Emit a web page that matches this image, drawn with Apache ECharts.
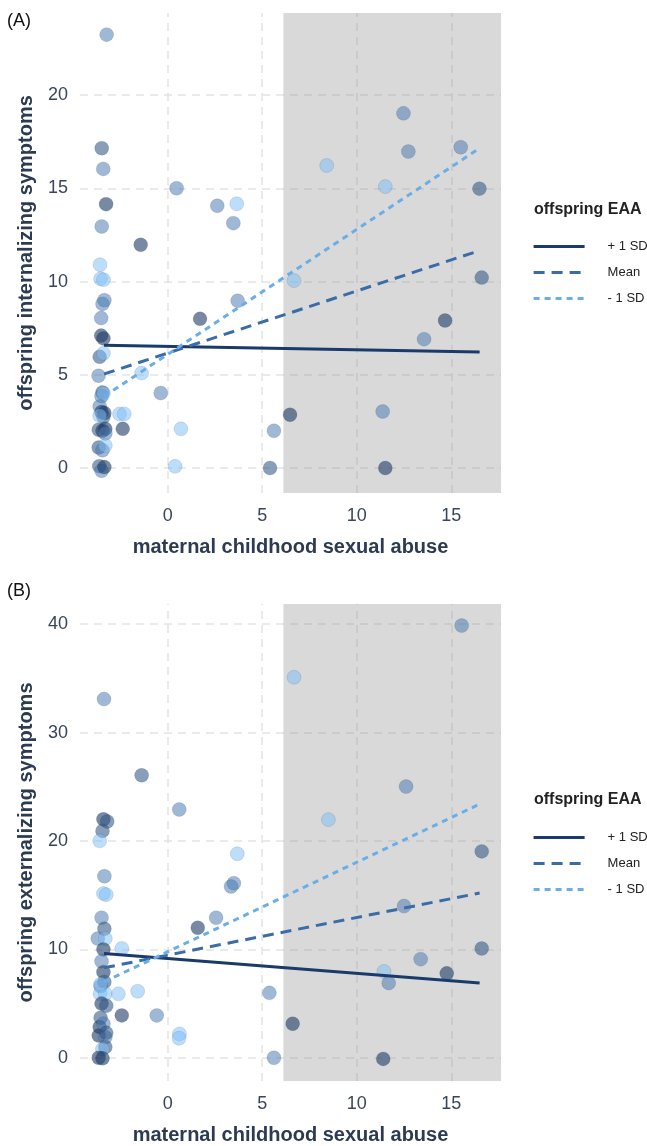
<!DOCTYPE html>
<html>
<head>
<meta charset="utf-8">
<script src="https://cdn.jsdelivr.net/npm/echarts@6/dist/echarts.min.js"></script>
<style>
html,body{margin:0;padding:0;background:#fff;}
#chart{width:647px;height:1146px;}
</style>
</head>
<body>
<div id="chart"></div>
<script>
// ---------- data ----------
const xTicks = [0, 5, 10, 15];
const yTicksA = [0, 5, 10, 15, 20];
const yTicksB = [0, 10, 20, 30, 40];
const legendNames = ['+ 1 SD', 'Mean', '- 1 SD'];
const shadedStart = 6.12;
const xLabel = 'maternal childhood sexual abuse';
const yLabelA = 'offspring internalizing symptoms';
const yLabelB = 'offspring externalizing symptoms';

// [x, y, EAA shade level 1=high .. 4=low]
const pointsA = [
  [12.47,19.02,3],[12.73,16.97,3],[8.41,16.22,4],[15.50,17.2,3],[11.51,15.09,4],
  [16.49,14.98,2],[6.68,10.05,4],[16.61,10.21,2],[14.67,7.91,1],[13.56,6.91,3],
  [6.47,2.86,1],[11.37,3.03,3],[11.51,0,1],[5.62,2.0,3],[5.41,0,2],
  [3.70,8.97,3],[1.71,8.0,1],[0.70,2.1,4],[0.39,0.09,4],[-0.37,4.02,3],
  [-1.38,5.09,4],[-2.55,2.9,4],[-2.3,2.9,4],[-2.38,2.1,1],[-1.43,11.97,1],
  [0.47,15.0,3],[2.62,14.06,3],[3.65,14.17,4],[3.47,13.13,3],[-3.23,23.24,3],
  [-3.49,17.15,2],[-3.41,16.04,3],[-3.26,14.15,1],[-3.49,12.95,3],
  [-3.58,10.9,4],[-3.55,10.15,4],[-3.4,10.1,4],[-3.35,9.0,3],[-3.45,8.8,3],
  [-3.52,8.04,3],[-3.52,7.1,1],[-3.4,6.95,1],[-3.6,5.96,2],[-3.4,6.15,4],
  [-3.66,4.95,3],[-3.45,4.05,2],[-3.5,3.85,3],[-3.4,4.0,4],
  [-3.6,3.3,3],[-3.5,3.0,1],[-3.35,2.95,1],[-3.4,2.75,2],[-3.6,2.8,4],
  [-3.65,2.05,2],[-3.45,2.0,1],[-3.3,2.1,1],[-3.3,1.85,3],
  [-3.65,1.1,2],[-3.45,0.95,3],[-3.3,1.2,4],
  [-3.62,0.1,2],[-3.5,-0.15,3],[-3.35,0.05,1]
];
const pointsB = [
  [15.55,39.87,3],[6.68,35.1,4],[12.61,25.02,3],[8.5,21.97,4],[16.61,19.04,2],
  [12.5,14.0,3],[16.61,10.08,2],[13.38,9.1,3],[11.44,7.97,4],[11.69,6.9,3],
  [14.76,7.79,1],[6.61,3.14,1],[11.4,-0.1,1],[5.38,5.99,3],[5.62,0,3],
  [-3.37,33.09,3],[-1.38,26.06,2],[0.61,22.9,3],[-3.4,22.0,1],[-3.2,21.8,2],
  [-3.45,20.93,2],[-3.6,20.01,4],[3.68,18.82,4],[-3.35,16.75,3],[-3.4,15.15,4],
  [-3.25,15.05,4],[3.5,16.1,3],[3.35,15.8,3],[2.56,12.92,3],[1.59,12.0,1],
  [-3.5,12.92,3],[-3.35,11.9,2],[-3.7,11.0,3],[-3.3,11.0,4],[-2.43,10.08,4],
  [-3.4,10.0,1],[-3.5,8.9,3],[-3.4,7.9,1],[-3.35,7.0,2],[-3.55,6.6,3],
  [-3.58,5.9,4],[-3.3,5.9,4],[-2.61,5.9,4],[-1.59,6.14,4],[-3.5,5.0,1],
  [-3.25,4.8,2],[-2.43,3.91,1],[-0.58,3.91,3],[-3.55,3.7,2],[-3.6,2.84,1],
  [-3.65,2.05,1],[-3.3,1.9,3],[0.62,2.2,4],[0.6,1.8,4],[-3.3,1.0,2],
  [-3.45,0.8,4],[-3.65,0,1],[-3.45,-0.05,1],[-3.4,3.15,3],[-3.25,2.3,2],
  [-3.55,6.8,4]
];
// simple slopes: [x, y] end points
const highA = [[-3.37,6.58],[16.5,6.22]];
const meanA = [[-3.37,5.04],[16.5,11.66]];
const lowA  = [[-3.37,3.84],[16.5,17.15]];
const highB = [[-3.37,9.62],[16.5,6.9]];
const meanB = [[-3.37,8.3],[16.5,15.2]];
const lowB  = [[-3.37,7.0],[16.5,23.4]];

// ---------- styling ----------
const FONT = '"Liberation Sans", Arial, sans-serif';
const shadeColors = {1:'rgba(27,57,100,0.74)',2:'rgba(50,86,134,0.72)',3:'rgba(76,123,180,0.68)',4:'rgba(125,190,247,0.64)'};
const lineColors = ['#1a3a6b', '#3a6ca8', '#6aaee8'];
const lineTypes = ['solid', [11,7], [6,5]];
const labelColor = '#3a4658';
const titleColor = '#2d3b52';

const panels = [
  {top:13, xMin:-4.64, xMax:17.63, yMin:-1.34, yMax:24.4, yTicks:yTicksA, yName:yLabelA, pts:pointsA, lines:[highA,meanA,lowA]},
  {top:604, xMin:-4.64, xMax:17.63, yMin:-2.14, yMax:41.86, yTicks:yTicksB, yName:yLabelB, pts:pointsB, lines:[highB,meanB,lowB]}
];

const grid = [], xAxis = [], yAxis = [], series = [];
panels.forEach((p, i) => {
  grid.push({left:80, width:421, top:p.top, height:480});
  xAxis.push({
    type:'value', gridIndex:i, min:p.xMin, max:p.xMax,
    axisLine:{show:false}, axisTick:{show:false}, splitLine:{show:false},
    axisLabel:{customValues:xTicks, fontSize:18, color:labelColor, margin:14, fontFamily:FONT},
    name:xLabel, nameLocation:'middle', nameGap:44,
    nameTextStyle:{fontSize:20, fontWeight:'bold', color:titleColor, fontFamily:FONT}
  });
  yAxis.push({
    type:'value', gridIndex:i, min:p.yMin, max:p.yMax,
    axisLine:{show:false}, axisTick:{show:false}, splitLine:{show:false},
    axisLabel:{customValues:p.yTicks, fontSize:18, color:labelColor, margin:12, fontFamily:FONT},
    name:p.yName, nameLocation:'middle', nameGap:44,
    nameTextStyle:{fontSize:20, fontWeight:'bold', color:titleColor, fontFamily:FONT}
  });
  // gridlines
  series.push({
    type:'scatter', xAxisIndex:i, yAxisIndex:i, data:[], z:1, silent:true,
    markLine:{
      z:1, silent:true, symbol:['none','none'], label:{show:false},
      lineStyle:{color:'#e4e4e4', width:1.5, type:[8,6]},
      animation:false,
      data: xTicks.map(v => ({xAxis:v})).concat(p.yTicks.map(v => ({yAxis:v})))
    }
  });
  // shaded region
  series.push({
    type:'scatter', xAxisIndex:i, yAxisIndex:i, data:[], z:2, silent:true,
    markArea:{
      z:2, silent:true, itemStyle:{color:'rgba(150,150,150,0.36)'},
      data:[[{xAxis:shadedStart, yAxis:p.yMin},{xAxis:p.xMax, yAxis:p.yMax}]]
    }
  });
  // points
  series.push({
    type:'scatter', xAxisIndex:i, yAxisIndex:i, z:3, symbolSize:14,
    data:p.pts,
    itemStyle:{color: q => shadeColors[q.value[2]], borderColor:'rgba(20,40,70,0.25)', borderWidth:0.6}
  });
  // regression lines
  p.lines.forEach((ln, k) => {
    series.push({
      type:'line', name:legendNames[k], xAxisIndex:i, yAxisIndex:i, z:4,
      data:ln, symbol:'none', showSymbol:false,
      lineStyle:{color:lineColors[k], width:3, type:lineTypes[k]},
      itemStyle:{color:lineColors[k]}
    });
  });
});

const legendBase = {
  orient:'vertical', left:532, padding:0, itemWidth:51, itemHeight:14, itemGap:13,
  data:legendNames, selectedMode:false,
  itemStyle:{opacity:0},
  lineStyle:{width:3.2},
  textStyle:{fontSize:13, color:'#222', fontFamily:FONT, padding:[0,0,0,18]}
};

const option = {
  animation:false,
  backgroundColor:'#fff',
  textStyle:{fontFamily:FONT},
  title:[
    {text:'(A)', left:7, top:12, padding:0, textStyle:{fontSize:18, fontWeight:'normal', color:'#111', fontFamily:FONT}},
    {text:'(B)', left:7, top:582, padding:0, textStyle:{fontSize:18, fontWeight:'normal', color:'#111', fontFamily:FONT}},
    {text:'offspring EAA', left:534, top:202, padding:0, textStyle:{fontSize:16, fontWeight:'bold', color:'#222', fontFamily:FONT}},
    {text:'offspring EAA', left:534, top:792, padding:0, textStyle:{fontSize:16, fontWeight:'bold', color:'#222', fontFamily:FONT}}
  ],
  legend:[
    Object.assign({}, legendBase, {top:240}),
    Object.assign({}, legendBase, {top:831})
  ],
  grid, xAxis, yAxis, series
};

const chart = echarts.init(document.getElementById('chart'), null, {renderer:'canvas'});
chart.setOption(option);
</script>
</body>
</html>
